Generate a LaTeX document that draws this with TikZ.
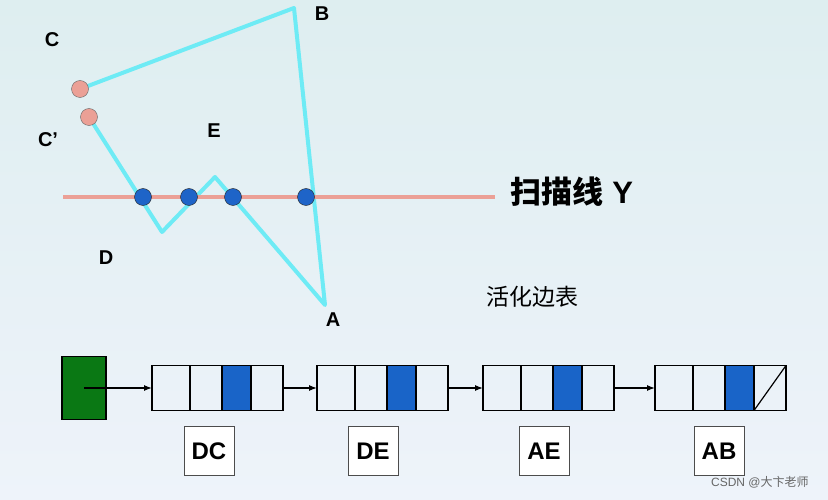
\documentclass[tikz,border=0pt]{standalone}
\usepackage{fontspec}
\setmainfont{Liberation Sans}
\newfontfamily\cjk{Noto Sans CJK SC}
\usetikzlibrary{arrows.meta, positioning}

\definecolor{edgecyan}{RGB}{110,235,245}
\definecolor{scanred}{RGB}{235,160,150}
\definecolor{dotblue}{RGB}{30,100,200}
\definecolor{cellblue}{RGB}{25,100,200}
\definecolor{headgreen}{RGB}{10,120,20}
\definecolor{bgtop}{RGB}{222,238,240}
\definecolor{bgbot}{RGB}{238,243,250}

\begin{document}
\begin{tikzpicture}[x=1pt, y=-1pt, outer sep=0pt]

\tikzstyle{lbl}=[font=\bfseries\fontsize{20}{22}\selectfont]
\tikzstyle{dot}=[circle, draw=black!85, fill=dotblue, minimum size=17pt, inner sep=0pt]
\tikzstyle{pinkdot}=[circle, draw=black!60, fill=scanred, minimum size=17pt, inner sep=0pt]
\tikzstyle{cell}=[rectangle, draw, line width=1.2pt, minimum width=32pt, minimum height=45pt, inner sep=0pt, anchor=west]
\tikzstyle{tag}=[rectangle, draw=black!70, fill=white, minimum width=50pt, minimum height=49pt, font=\bfseries\fontsize{24}{26}\selectfont]

\useasboundingbox[top color=bgtop, bottom color=bgbot] (0,0) rectangle (828,500);

% polygon
\coordinate (B) at (294,8);
\coordinate (A) at (325,305);
\coordinate (E) at (215,177);
\coordinate (D) at (162,232);
\draw[edgecyan, line width=4pt, line join=round] (80,89) -- (B) -- (A) -- (E) -- (D) -- (89,117);
\node[pinkdot] (c) at (80,89) {};
\node[pinkdot] (cp) at (89,117) {};

% scan line
\draw[scanred, line width=4pt] (63,197) -- (495,197);
\foreach \x in {143,189,233,306} \node[dot] at (\x,197) {};

\node[lbl] (lc) at (52,40) {C};
\node[lbl] (lb) at (322,14) {B};
\node[lbl] (lcp) at (48,140) {C'};
\node[lbl] (le) at (214,131) {E};
\node[lbl] (ld) at (106,258) {D};
\node[lbl] (la) at (333,320) {A};
\node[font=\bfseries\fontsize{31}{33}\selectfont] (scan) at (572,192) {{\cjk 扫描线} Y};
\node[font=\cjk\fontsize{23}{25}\selectfont] (aet) at (532,297) {活化边表};

% edge list
\node[rectangle, draw, line width=1.2pt, fill=headgreen, minimum width=44pt, minimum height=63pt, anchor=west] (head) at (62,388) {};
\foreach \n/\x/\t/\s in {1/152/DC/3,2/317/DE/2,3/483/AE/7,4/655/AB/10}{
  \node[cell, minimum width=38pt] (a\n) at (\x,388) {};
  \node[cell] (b\n) [right=0pt of a\n] {};
  \node[cell, minimum width=29pt, fill=cellblue] (c\n) [right=0pt of b\n] {};
  \node[cell] (d\n) [right=0pt of c\n] {};
  \node[tag, xshift=\s pt] (t\n) [below=16pt of b\n] {\t};
}
\draw[line width=1.2pt] (d4.south west) -- (d4.north east);
\draw[-{Latex[length=8pt]}, line width=1.2pt] (head.center) -- (a1.west);
\draw[-{Latex[length=8pt]}, line width=1.2pt] (d1.east) -- (a2.west);
\draw[-{Latex[length=8pt]}, line width=1.2pt] (d2.east) -- (a3.west);
\draw[-{Latex[length=8pt]}, line width=1.2pt] (d3.east) -- (a4.west);

\node[font=\fontsize{12}{14}\selectfont, text=black!60, anchor=east] (mark) at (812,482) {CSDN @{\cjk 大卞老师}};
\end{tikzpicture}
\end{document}
